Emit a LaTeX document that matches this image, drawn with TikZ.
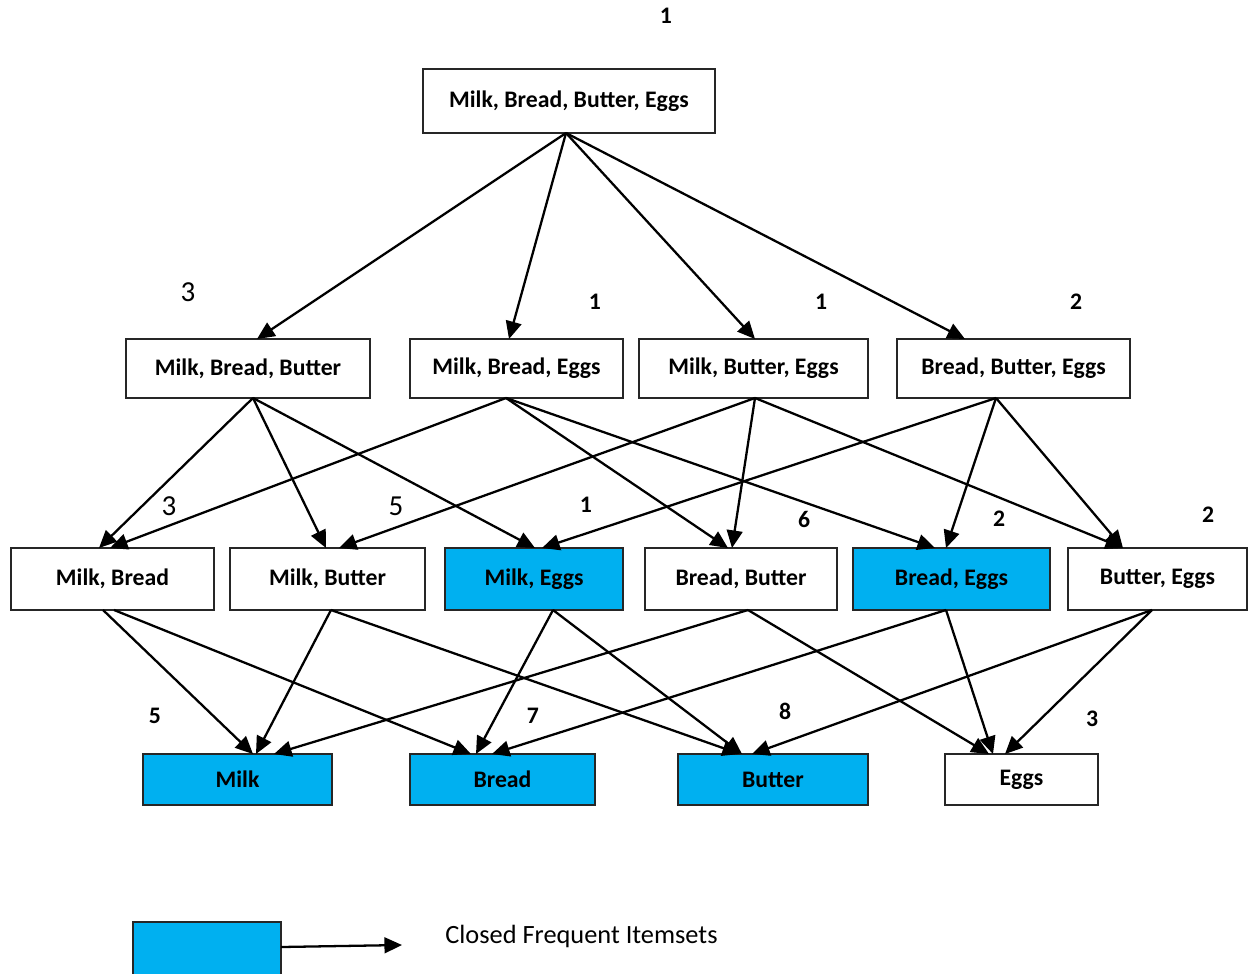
\documentclass[tikz,border=0pt]{standalone}
\usepackage{fontspec}
\setmainfont{Carlito}
\usetikzlibrary{arrows.meta,calc}
\definecolor{closed}{HTML}{00B0F0}
\definecolor{frame}{HTML}{262626}

\begin{document}
\begin{tikzpicture}[x=0.02cm,y=-0.02cm,
  itemset/.style={draw=frame,line width=0.9pt,inner sep=0pt,outer sep=0pt,font=\fontsize{13.5}{16}\selectfont\bfseries},
  closedset/.style={itemset,fill=closed},
  link/.style={line width=1.3pt,-{Triangle[length=10pt,width=9pt]}},
  count/.style={font=\fontsize{13.5}{16}\selectfont\bfseries},
  countlight/.style={font=\fontsize{16.5}{19}\selectfont}]
  \useasboundingbox (0,0) rectangle (1250,973);

  % Four items
  \node[itemset,minimum width=5.84cm,minimum height=1.28cm] (mbbue) at (569,101) {Milk, Bread, Butter, Eggs};
  \node[count] (cmbbue) at (666,16) {1};

  % Three items
  \node[itemset,minimum width=4.88cm,minimum height=1.18cm] (mbbu) at (248,368.5) {Milk, Bread, Butter};
  \node[itemset,minimum width=4.26cm,minimum height=1.18cm] (mbe) at (516.5,368.5) {Milk, Bread, Eggs};
  \node[itemset,minimum width=4.58cm,minimum height=1.18cm] (mbue) at (753.5,368.5) {Milk, Butter, Eggs};
  \node[itemset,minimum width=4.66cm,minimum height=1.18cm] (bbue) at (1013.5,368.5) {Bread, Butter, Eggs};
  \node[countlight] (cmbbu) at (188,292) {3};
  \node[count] (cmbe) at (595,302) {1};
  \node[count] (cmbue) at (821,302) {1};
  \node[count] (cbbue) at (1076,302) {2};

  % Two items
  \node[itemset,minimum width=4.06cm,minimum height=1.24cm] (mb) at (112.5,579) {Milk, Bread};
  \node[itemset,minimum width=3.90cm,minimum height=1.24cm] (mbu) at (327.5,579) {Milk, Butter};
  \node[closedset,minimum width=3.56cm,minimum height=1.24cm] (me) at (534,579) {Milk, Eggs};
  \node[itemset,minimum width=3.84cm,minimum height=1.24cm] (bbu) at (741,579) {Bread, Butter};
  \node[closedset,minimum width=3.94cm,minimum height=1.24cm] (be) at (951.5,579) {Bread, Eggs};
  \node[itemset,minimum width=3.58cm,minimum height=1.24cm] (bue) at (1157.5,579) {Butter, Eggs};
  \node[countlight] (cmb) at (169,506) {3};
  \node[countlight] (cmbu) at (396,506) {5};
  \node[count] (cme) at (586,505) {1};
  \node[count] (cbbu) at (804,519) {6};
  \node[count] (cbe) at (999,519) {2};
  \node[count] (cbue) at (1208,515) {2};

  % One item
  \node[closedset,minimum width=3.78cm,minimum height=1.02cm] (milk) at (237.5,779.5) {Milk};
  \node[closedset,minimum width=3.70cm,minimum height=1.02cm] (bread) at (502.5,779.5) {Bread};
  \node[closedset,minimum width=3.80cm,minimum height=1.02cm] (butter) at (773,779.5) {Butter};
  \node[itemset,minimum width=3.06cm,minimum height=1.02cm] (eggs) at (1021.5,779.5) {Eggs};
  \node[count] (cmilk) at (155,716) {5};
  \node[count] (cbread) at (533,716) {7};
  \node[count] (cbutter) at (785,711) {8};
  \node[count] (ceggs) at (1092,719) {3};

  % Links from four items
  \draw[link] ($(mbbue.south)+(-3,0)$) -- ($(mbbu.north)+(9,0)$);
  \draw[link] ($(mbbue.south)+(-3,0)$) -- ($(mbe.north)+(-7.5,0)$);
  \draw[link] ($(mbbue.south)+(-3,0)$) -- ($(mbue.north)+(1.5,0)$);
  \draw[link] ($(mbbue.south)+(-3,0)$) -- ($(bbue.north)+(-48.5,0)$);

  % Links from three items
  \draw[link] ($(mbbu.south)+(5,0)$) -- ($(mb.north)+(-13.5,0)$);
  \draw[link] ($(mbbu.south)+(5,0)$) -- ($(mbu.north)+(-1.5,0)$);
  \draw[link] ($(mbbu.south)+(5,0)$) -- ($(me.north)+(1,0)$);
  \draw[link] ($(mbe.south)+(-10.5,0)$) -- ($(mb.north)+(-2.5,0)$);
  \draw[link] ($(mbe.south)+(-10.5,0)$) -- ($(bbu.north)+(-13,0)$);
  \draw[link] ($(mbe.south)+(-10.5,0)$) -- ($(be.north)+(-16.5,0)$);
  \draw[link] ($(mbue.south)+(1.5,0)$) -- ($(mbu.north)+(11.5,0)$);
  \draw[link] ($(mbue.south)+(1.5,0)$) -- ($(bbu.north)+(-9,0)$);
  \draw[link] ($(mbue.south)+(1.5,0)$) -- ($(bue.north)+(-34.5,0)$);
  \draw[link] ($(bbue.south)+(-17.5,0)$) -- ($(me.north)+(8,0)$);
  \draw[link] ($(bbue.south)+(-17.5,0)$) -- ($(be.north)+(-5.5,0)$);
  \draw[link] ($(bbue.south)+(-17.5,0)$) -- ($(bue.north)+(-34.5,0)$);

  % Links from two items
  \draw[link] ($(mb.south)+(-9.5,0)$) -- ($(milk.north)+(15.5,0)$);
  \draw[link] ($(mb.south)+(1.5,0)$) -- ($(bread.north)+(-31.5,0)$);
  \draw[link] ($(mbu.south)+(3.5,0)$) -- ($(milk.north)+(18.5,0)$);
  \draw[link] ($(mbu.south)+(3.5,0)$) -- ($(butter.north)+(-33,0)$);
  \draw[link] ($(me.south)+(19,0)$) -- ($(bread.north)+(-26.5,0)$);
  \draw[link] ($(me.south)+(19,0)$) -- ($(butter.north)+(-31,0)$);
  \draw[link] ($(bbu.south)+(7,0)$) -- ($(milk.north)+(36.5,0)$);
  \draw[link] ($(bbu.south)+(7,0)$) -- ($(eggs.north)+(-32.5,0)$);
  \draw[link] ($(be.south)+(-5.5,0)$) -- ($(bread.north)+(-10.5,0)$);
  \draw[link] ($(be.south)+(-5.5,0)$) -- ($(eggs.north)+(-28.5,0)$);
  \draw[link] ($(bue.south)+(-5.5,0)$) -- ($(butter.north)+(-21,0)$);
  \draw[link] ($(bue.south)+(-5.5,0)$) -- ($(eggs.north)+(-16.5,0)$);

  % Legend
  \node[closedset,minimum width=2.96cm,minimum height=1.08cm] (legendbox) at (207,949) {};
  \coordinate (legendend) at (402,945);
  \draw[link] ($(legendbox.north east)+(0,25)$) -- (legendend);
  \node[anchor=west,inner sep=0pt,font=\fontsize{15}{18}\selectfont] (legendtext) at (445,936) {Closed Frequent Itemsets};
\end{tikzpicture}
\end{document}
